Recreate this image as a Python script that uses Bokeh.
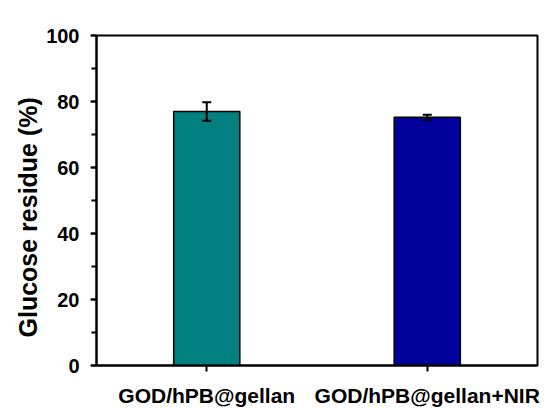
from bokeh.plotting import figure
from bokeh.models import ColumnDataSource, Whisker, TeeHead, SingleIntervalTicker, Title
from bokeh.embed import file_html
from bokeh.resources import INLINE

groups = ["GOD/hPB@gellan", "GOD/hPB@gellan+NIR"]
values = [77.0, 75.2]
errors = [2.8, 0.8]
colors = ["#008080", "#00009C"]
y_label = "Glucose residue (%)"

src = ColumnDataSource(dict(
    x=groups, top=values,
    upper=[v + e for v, e in zip(values, errors)],
    lower=[v - e for v, e in zip(values, errors)],
    color=colors,
))

p = figure(x_range=groups, y_range=(0, 100),
           frame_width=441, frame_height=330,
           min_border_left=96, min_border_top=35, min_border_right=20, min_border_bottom=41,
           output_backend="svg", toolbar_location=None)

p.vbar(x="x", top="top", width=0.3, bottom=0, source=src,
       fill_color="color", line_color="black", line_width=1.5)

w = Whisker(base="x", upper="upper", lower="lower", source=src,
            line_color="black", line_width=2, level="overlay",
            upper_head=TeeHead(size=9, line_width=2, line_color="black"),
            lower_head=TeeHead(size=9, line_width=2, line_color="black"))
p.add_layout(w)

p.grid.visible = False
p.outline_line_color = "black"
p.outline_line_width = 2
p.outline_line_alpha = 1

font = "Liberation Sans"

p.yaxis.ticker = SingleIntervalTicker(interval=20, num_minor_ticks=2)
p.yaxis.major_label_text_font = font
p.yaxis.major_label_text_font_style = "bold"
p.yaxis.major_label_text_font_size = "20px"
p.yaxis.major_label_text_color = "black"
p.yaxis.major_label_text_baseline = "alphabetic"
p.yaxis.major_label_standoff = 11

p.add_layout(Title(text=y_label, align="left", offset=28,
                   text_font=font, text_font_style="bold",
                   text_font_size="25px", text_color="black",
                   standoff=4), "left")

for ax in (p.xaxis, p.yaxis):
    ax.axis_line_width = 2
    ax.axis_line_color = "black"
    ax.major_tick_line_width = 2
    ax.minor_tick_line_width = 2
    ax.major_tick_line_color = "black"
    ax.minor_tick_line_color = "black"
    ax.major_tick_in = 0
    ax.major_tick_out = 6
    ax.minor_tick_in = 0
    ax.minor_tick_out = 5

p.xaxis.major_label_text_font = font
p.xaxis.major_label_text_font_style = "bold"
p.xaxis.major_label_text_font_size = "21px"
p.xaxis.major_label_text_color = "black"
p.xaxis.major_label_standoff = 12

open("out.html", "w").write(file_html(p, INLINE))
